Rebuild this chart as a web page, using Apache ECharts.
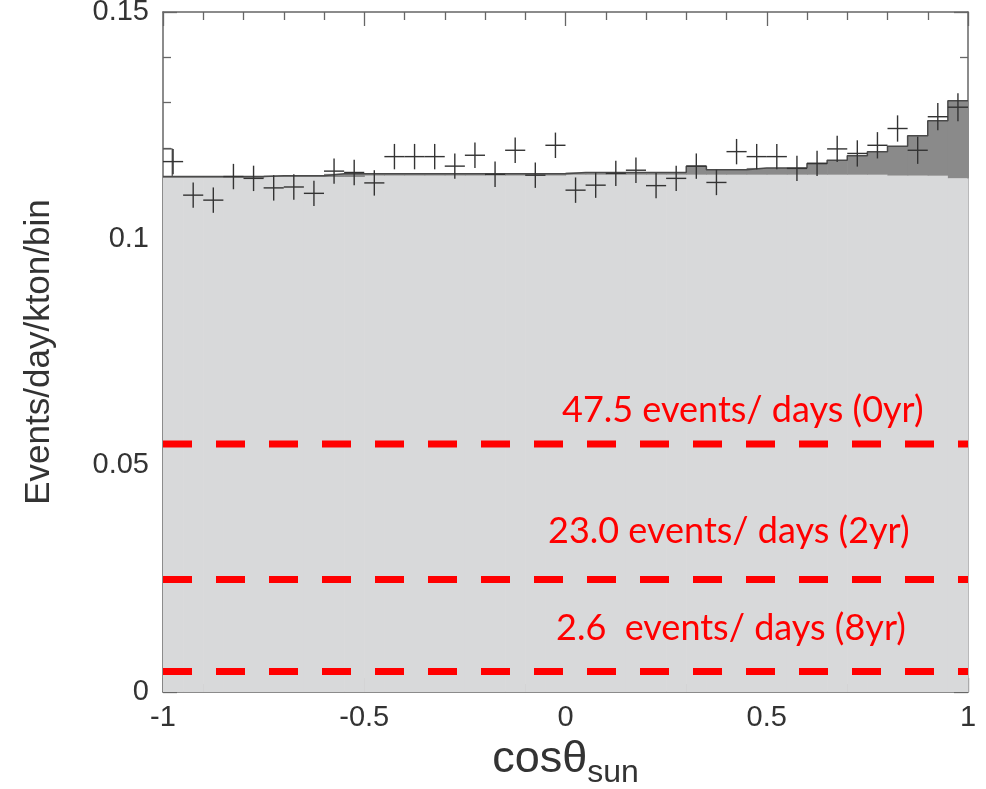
<!DOCTYPE html>
<html>
<head>
<meta charset="utf-8">
<script src="https://cdn.jsdelivr.net/npm/echarts@6/dist/echarts.min.js"></script>
<style>
html,body{margin:0;padding:0;background:#fff;}
#chart{width:986px;height:789px;}
</style>
</head>
<body>
<div id="chart"></div>
<script>
// ---- data ----
const binCenters = [-0.975,-0.925,-0.875,-0.825,-0.775,-0.725,-0.675,-0.625,-0.575,-0.525,
  -0.475,-0.425,-0.375,-0.325,-0.275,-0.225,-0.175,-0.125,-0.075,-0.025,
  0.025,0.075,0.125,0.175,0.225,0.275,0.325,0.375,0.425,0.475,
  0.525,0.575,0.625,0.675,0.725,0.775,0.825,0.875,0.925,0.975];
const binHalfWidth = 0.025;
const dataValues = [0.1170,0.1096,0.1085,0.1137,0.1133,0.1112,0.1114,0.1100,0.1149,0.1146,
  0.1123,0.1181,0.1181,0.1181,0.1160,0.1184,0.1142,0.1195,0.1140,0.1206,
  0.1107,0.1118,0.1144,0.1151,0.1117,0.1133,0.1160,0.1124,0.1192,0.1181,
  0.1181,0.1155,0.1166,0.1198,0.1188,0.1206,0.1243,0.1195,0.1269,0.1290];
const dataErrors = [0.0028,0.0028,0.0028,0.0028,0.0028,0.0028,0.0028,0.0028,0.0028,0.0028,
  0.0028,0.0028,0.0028,0.0028,0.0028,0.0028,0.0028,0.0028,0.0028,0.0028,
  0.0028,0.0028,0.0028,0.0028,0.0028,0.0028,0.0028,0.0028,0.0028,0.0028,
  0.0028,0.0028,0.0028,0.0029,0.0029,0.0029,0.0029,0.0030,0.0030,0.0031];
const bgLevel = [0.1134,0.1134,0.1134,0.1134,0.1134,0.1136,0.1136,0.1136,0.1136,0.1136,
  0.1139,0.1139,0.1139,0.1139,0.1139,0.1139,0.1139,0.1139,0.1139,0.1139,
  0.1141,0.1141,0.1141,0.1141,0.1141,0.1141,0.1141,0.1141,0.1141,0.1141,
  0.1141,0.1141,0.1141,0.1141,0.1141,0.1141,0.1139,0.1139,0.1139,0.1133];
const totalLevel = [0.1137,0.1137,0.1137,0.1137,0.1137,0.1139,0.1139,0.1139,0.1143,0.1143,
  0.1143,0.1143,0.1143,0.1143,0.1143,0.1143,0.1143,0.1143,0.1143,0.1143,
  0.1146,0.1146,0.1146,0.1146,0.1146,0.1146,0.1160,0.1152,0.1152,0.1156,
  0.1156,0.1156,0.1166,0.1173,0.1183,0.1192,0.1204,0.1227,0.1260,0.1304];
const edgeStub = [[-1,0.1198],[-0.977,0.1198],[-0.977,0.1137]];
const refLines = [0.0547, 0.0248, 0.0045];
const refLabels = ['47.5 events/ days (0yr)', '23.0 events/ days (2yr)', '2.6  events/ days (8yr)'];
const xTickValues = [-1, -0.5, 0, 0.5, 1];
const xTickLabels = ['-1', '-0.5', '0', '0.5', '1'];
const yTickValues = [0, 0.05, 0.1, 0.15];
const yTickLabels = ['0', '0.05', '0.1', '0.15'];

// ---- build ----
const bgData = binCenters.map((c, i) => [c - binHalfWidth, c + binHalfWidth, 0, bgLevel[i]]);
const sigData = binCenters.map((c, i) => [c - binHalfWidth, c + binHalfWidth, bgLevel[i], totalLevel[i]]);
const outlinePts = [];
binCenters.forEach((c, i) => { outlinePts.push([c - binHalfWidth, totalLevel[i]]); outlinePts.push([c + binHalfWidth, totalLevel[i]]); });
const crossData = binCenters.map((c, i) => [c, dataValues[i], dataErrors[i]]);

function rectItem(color) {
  return function (params, api) {
    const p0 = api.coord([api.value(0), api.value(2)]);
    const p1 = api.coord([api.value(1), api.value(3)]);
    return {
      type: 'rect',
      shape: { x: p0[0], y: p1[1], width: p1[0] - p0[0] + 0.6, height: p0[1] - p1[1] },
      style: { fill: color }
    };
  };
}

const chart = echarts.init(document.getElementById('chart'), null, { renderer: 'canvas' });
const axisColor = '#666666';
const textColor = '#333333';
const labelFont = 'Liberation Sans';
function lookup(vals, labs) {
  return function (v) {
    for (let i = 0; i < vals.length; i++) if (Math.abs(vals[i] - v) < 1e-9) return labs[i];
    return '';
  };
}
const tickCommon = { show: true, inside: true, length: 14, lineStyle: { color: axisColor, width: 1.3 } };
const minorCommon = { show: true, splitNumber: 5, length: 8, lineStyle: { color: axisColor, width: 1.3 } };
const lineCommon = { show: true, onZero: false, lineStyle: { color: axisColor, width: 1.5 } };

const option = {
  backgroundColor: '#ffffff',
  animation: false,
  grid: { left: 163, right: 18, top: 12, bottom: 97, containLabel: false, outerBoundsMode: 'none' },
  xAxis: [{
    type: 'value', min: -1, max: 1, interval: 0.5, position: 'bottom',
    axisLine: lineCommon, axisTick: tickCommon, minorTick: minorCommon,
    splitLine: { show: false },
    axisLabel: { margin: 11, fontFamily: labelFont, fontSize: 29, color: textColor, formatter: lookup(xTickValues, xTickLabels) },
    name: '{a|cosθ}{b|sun}', nameLocation: 'middle', nameGap: 34,
    nameTextStyle: {
      rich: {
        a: { fontFamily: labelFont, fontSize: 45, color: textColor, lineHeight: 52 },
        b: { fontFamily: labelFont, fontSize: 32, color: textColor, padding: [28, 0, 0, 0] }
      }
    }
  }, {
    type: 'value', min: -1, max: 1, interval: 0.5, position: 'top',
    axisLine: lineCommon, axisTick: tickCommon, minorTick: minorCommon,
    splitLine: { show: false }, axisLabel: { show: false }
  }],
  yAxis: [{
    type: 'value', min: 0, max: 0.15, interval: 0.05, position: 'left',
    axisLine: lineCommon, axisTick: tickCommon, minorTick: minorCommon,
    splitLine: { show: false },
    axisLabel: { margin: 14, fontFamily: labelFont, fontSize: 29, color: textColor, formatter: lookup(yTickValues, yTickLabels) },
    name: 'Events/day/kton/bin', nameLocation: 'middle', nameGap: 106,
    nameTextStyle: { fontFamily: labelFont, fontSize: 35, color: textColor }
  }, {
    type: 'value', min: 0, max: 0.15, interval: 0.05, position: 'right',
    axisLine: lineCommon, axisTick: tickCommon, minorTick: minorCommon,
    splitLine: { show: false }, axisLabel: { show: false }
  }],
  series: [
    { type: 'custom', name: 'background', renderItem: rectItem('#d8d9da'), data: bgData, encode: { x: [0, 1], y: [2, 3] }, z: 1, silent: true },
    { type: 'custom', name: 'signal', renderItem: rectItem('#8a8a8a'), data: sigData, encode: { x: [0, 1], y: [2, 3] }, z: 2, silent: true },
    { type: 'line', name: 'total', data: outlinePts, symbol: 'none', lineStyle: { color: '#4a4a4a', width: 1.5 }, z: 3, silent: true },
    { type: 'line', name: 'stub', data: edgeStub, symbol: 'none', lineStyle: { color: '#555', width: 1.3 }, z: 3, silent: true },
    {
      type: 'custom', name: 'data', data: crossData, encode: { x: 0, y: 1 }, z: 5, silent: true,
      renderItem: function (params, api) {
        const x = api.value(0), y = api.value(1), e = api.value(2);
        const l = api.coord([x - binHalfWidth, y]);
        const r = api.coord([x + binHalfWidth, y]);
        const t = api.coord([x, y + e]);
        const b = api.coord([x, y - e]);
        const st = { stroke: '#333333', lineWidth: 1.4 };
        return {
          type: 'group', children: [
            { type: 'line', shape: { x1: l[0], y1: l[1], x2: r[0], y2: r[1] }, style: st },
            { type: 'line', shape: { x1: t[0], y1: t[1], x2: b[0], y2: b[1] }, style: st }
          ]
        };
      }
    }
  ].concat(refLines.map((v, i) => ({
    type: 'line', name: refLabels[i], data: [[-1, v], [1, v]], symbol: 'none', z: 6, silent: true,
    lineStyle: { color: '#ff0000', width: 7, type: [29, 24], cap: 'butt' }
  }))),
  graphic: [
    { type: 'text', x: 562, y: 410, style: { text: refLabels[0], font: '36px Lato', fill: '#ff0000', verticalAlign: 'middle' }, z: 10 },
    { type: 'text', x: 548, y: 531, style: { text: refLabels[1], font: '36px Lato', fill: '#ff0000', verticalAlign: 'middle' }, z: 10 },
    { type: 'text', x: 556, y: 628, style: { text: refLabels[2], font: '36px Lato', fill: '#ff0000', verticalAlign: 'middle' }, z: 10 }
  ]
};
chart.setOption(option);
</script>
</body>
</html>
